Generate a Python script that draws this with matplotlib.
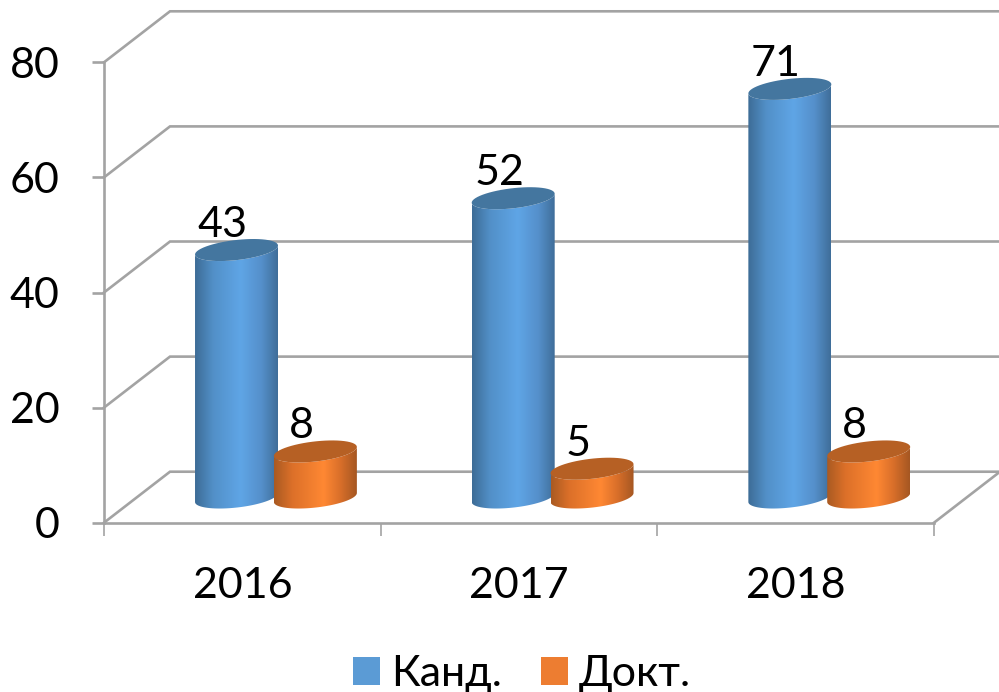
import matplotlib
matplotlib.use("Agg")
import matplotlib.pyplot as plt
import numpy as np
from matplotlib.colors import LinearSegmentedColormap
from matplotlib.patches import Patch, Polygon

plt.rcParams["font.family"] = ["Lato", "Noto Sans", "DejaVu Sans"]

YEARS = ["2016", "2017", "2018"]
KAND = [43, 52, 71]
DOKT = [8, 5, 8]
Y_TICKS = [0, 20, 40, 60, 80]

GRID_COLOR = "#a3a3a3"
FONT_SIZE = 31
WIDTH_PX, HEIGHT_PX = 999, 692

# depth of the fake 3d box, in data units
DEPTH_X = 0.2385
DEPTH_Y = 8.86
BAR_BASE = 4.38
BAR_HALF_WIDTH = 0.15
TOP_SKEW = 0.78
TOP_MINOR = 1.75

BLUE_CMAP = LinearSegmentedColormap.from_list(
    "blue", [(0, "#3d6c96"), (0.22, "#5290c8"), (0.55, "#5fa5e6"), (0.8, "#5590cb"), (1, "#3f6e99")]
)
ORANGE_CMAP = LinearSegmentedColormap.from_list(
    "orange", [(0, "#a95a22"), (0.22, "#dc7029"), (0.6, "#ff8833"), (0.8, "#d96f2a"), (1, "#a55722")]
)


def draw_cylinder(axis, center, value, cmap, top_color, zorder):
    left = center - BAR_HALF_WIDTH
    right = center + BAR_HALF_WIDTH
    top = BAR_BASE + value
    angles = np.linspace(0, np.pi, 60)
    front_x = center - BAR_HALF_WIDTH * np.cos(angles)
    front_y = -TOP_MINOR * np.sin(angles) - TOP_SKEW * np.cos(angles)

    # body outline: lower front edge, then back over the top ellipse front edge
    body = np.vstack(
        [
            np.column_stack([front_x, BAR_BASE + front_y]),
            np.column_stack([front_x[::-1], top + front_y[::-1]]),
        ]
    )
    clip = Polygon(body, closed=True, transform=axis.transData)
    image = axis.imshow(
        np.linspace(0, 1, 256).reshape(1, -1),
        cmap=cmap,
        extent=(left, right, BAR_BASE - 3, top + 3),
        aspect="auto",
        zorder=zorder,
        interpolation="bilinear",
    )
    image.set_clip_path(clip)

    ellipse_x = center - BAR_HALF_WIDTH * np.cos(angles * 2)
    ellipse_y = top + TOP_MINOR * np.sin(angles * 2) - TOP_SKEW * np.cos(angles * 2)
    axis.add_patch(
        Polygon(
            np.column_stack([ellipse_x, ellipse_y]),
            closed=True,
            facecolor=top_color,
            edgecolor="none",
            zorder=zorder + 0.1,
            clip_on=False,
        )
    )


figure = plt.figure(figsize=(WIDTH_PX / 100, HEIGHT_PX / 100), dpi=100)
axis = figure.add_axes(
    [104 / WIDTH_PX, 1 - 522.7 / HEIGHT_PX, 830 / WIDTH_PX, 460.4 / HEIGHT_PX]
)

# walls and floor
for value in Y_TICKS:
    axis.plot(
        [0, DEPTH_X, 3 + DEPTH_X],
        [value, value + DEPTH_Y, value + DEPTH_Y],
        color=GRID_COLOR,
        linewidth=1.9,
        clip_on=False,
        zorder=1,
        solid_joinstyle="miter",
    )
axis.plot(
    [3, 3 + DEPTH_X],
    [0, DEPTH_Y],
    color=GRID_COLOR,
    linewidth=1.9,
    clip_on=False,
    zorder=1,
)

for index, (kand, dokt) in enumerate(zip(KAND, DOKT, strict=True)):
    kand_center = index + 0.479
    dokt_center = index + 0.764
    draw_cylinder(axis, kand_center, kand, BLUE_CMAP, "#44769f", 3 + index)
    draw_cylinder(axis, dokt_center, dokt, ORANGE_CMAP, "#b66024", 3.5 + index)
    for center, value in ((kand_center, kand), (dokt_center, dokt)):
        axis.annotate(
            str(value),
            xy=(center, BAR_BASE + value),
            xytext=(-10, 9.5),
            textcoords="offset points",
            ha="center",
            va="baseline",
            fontsize=FONT_SIZE,
            color="black",
            zorder=10,
        )

axis.set_xlim(0, 3)
axis.set_ylim(0, 80)
axis.set_yticks(Y_TICKS)
axis.set_xticks([0, 1, 2, 3])
axis.set_xticklabels([])
axis.set_xticks([0.5, 1.5, 2.5], labels=YEARS, minor=True)
axis.tick_params(axis="y", length=9, width=1.9, color=GRID_COLOR, labelsize=FONT_SIZE, pad=23)
axis.tick_params(axis="x", which="major", length=9, width=1.2, color=GRID_COLOR)
axis.tick_params(axis="x", which="minor", length=0, labelsize=FONT_SIZE, pad=32)
for name in ("top", "right"):
    axis.spines[name].set_visible(False)
for name in ("left", "bottom"):
    axis.spines[name].set_color(GRID_COLOR)
    axis.spines[name].set_linewidth(1.9)
axis.patch.set_alpha(0)

handles = [
    Patch(facecolor="#5b9bd5", edgecolor="none", label="Канд."),
    Patch(facecolor="#ed7d31", edgecolor="none", label="Докт."),
]
figure.legend(
    handles=handles,
    loc="center",
    bbox_to_anchor=(522 / WIDTH_PX, 1 - 674 / HEIGHT_PX),
    ncol=2,
    frameon=False,
    fontsize=FONT_SIZE,
    handlelength=0.63,
    handleheight=0.63,
    handletextpad=0.25,
    columnspacing=0.92,
)

figure.savefig("out.png", dpi=100)
plt.close(figure)
